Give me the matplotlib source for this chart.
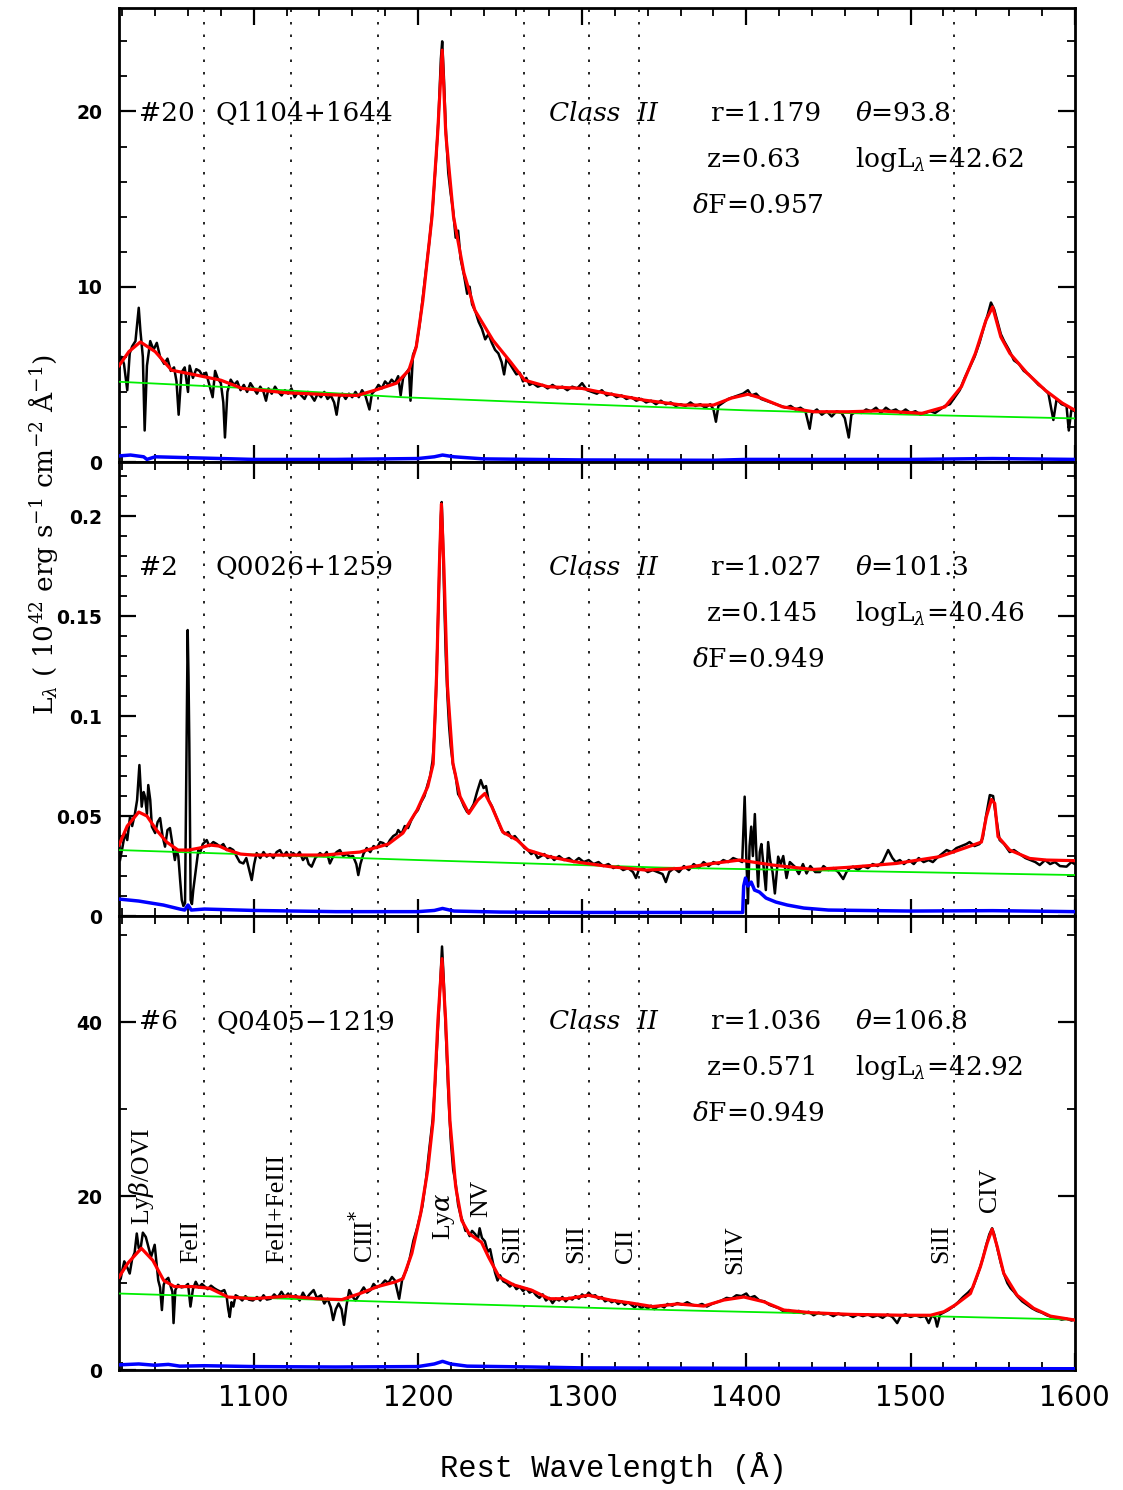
"""
Three-panel UV spectra (Class II quasars) with model fit, continuum and error.
"""

import matplotlib
matplotlib.use('Agg')
import matplotlib.pyplot as plt
from matplotlib.ticker import MultipleLocator, FormatStrFormatter

plt.rcParams['mathtext.fontset'] = 'dejavuserif'

# ---------------------------------------------------------------- panel 1 (#20)
W1 = [1018, 1019.5, 1021, 1023, 1024.5, 1026, 1028, 1030, 1031, 1032.5, 1033.6, 1035, 1037, 1039, 1041,
      1043, 1045.5, 1047.5, 1049.5, 1051.5, 1053, 1054.3, 1056, 1058, 1060, 1061, 1063, 1065, 1067, 1069,
      1071, 1073, 1075, 1076.5, 1078, 1080, 1081.5, 1082.5, 1084, 1086, 1088, 1090, 1092, 1094, 1096, 1098,
      1100, 1102, 1104, 1106, 1107.5, 1109, 1111, 1113, 1115, 1117, 1119, 1121, 1123, 1125, 1127, 1129,
      1131, 1133, 1135, 1137, 1139, 1141, 1143, 1145, 1147, 1149, 1150.5, 1152, 1154, 1156, 1158, 1160,
      1162, 1164, 1166, 1168, 1170.5, 1172, 1174, 1176, 1178, 1180, 1182, 1184, 1186, 1188, 1189.5, 1191,
      1193, 1194.5, 1195.5, 1197, 1199, 1201, 1203, 1205, 1207, 1209, 1211, 1212.5, 1214, 1214.8, 1215.8,
      1217, 1218.5, 1220, 1221.5, 1223, 1224.5, 1226, 1228, 1230, 1231.5, 1233, 1235, 1237, 1239, 1241,
      1243, 1245, 1247, 1249, 1251, 1252.5, 1254, 1256, 1258, 1260, 1262, 1264, 1266, 1268, 1270, 1273,
      1276, 1279, 1282, 1285, 1288, 1291, 1294, 1297, 1300, 1303, 1306, 1309, 1312, 1315, 1318, 1321,
      1324, 1327, 1330, 1333, 1336, 1339, 1342, 1345, 1348, 1351, 1354, 1357, 1360, 1363, 1366, 1369,
      1372, 1375, 1378, 1380, 1381.5, 1383, 1386, 1389, 1392, 1395, 1398, 1401, 1403, 1406, 1409, 1412,
      1415, 1418, 1421, 1424, 1427, 1430, 1433, 1436, 1438.6, 1440, 1443, 1446, 1449, 1452, 1455, 1458,
      1460, 1462.4, 1464, 1467, 1470, 1473, 1476, 1479, 1482, 1485, 1488, 1491, 1494, 1497, 1500, 1503,
      1506, 1509, 1512, 1515, 1518, 1521, 1524, 1527, 1530, 1533, 1536, 1539, 1542, 1545, 1547, 1549,
      1551, 1553, 1555, 1557, 1560, 1563, 1566, 1569, 1572, 1575, 1578, 1581, 1584, 1587, 1589, 1592,
      1595, 1596.4, 1598, 1600]
F1 = [5.3, 6.0, 5.6, 4.1, 6.2, 6.6, 6.9, 8.8, 7.5, 6.0, 1.8, 5.5, 6.9, 6.4, 6.8,
      6.0, 5.6, 5.9, 5.2, 5.4, 4.6, 2.7, 5.1, 5.4, 4.0, 5.5, 4.8, 5.3, 5.2, 4.9,
      5.1, 4.4, 3.7, 5.2, 4.8, 4.5, 3.4, 1.4, 4.0, 4.7, 4.4, 4.6, 4.1, 4.4, 4.0, 4.5,
      4.2, 3.9, 4.3, 4.0, 3.5, 4.2, 3.9, 4.3, 4.0, 3.8, 4.1, 3.9, 4.2, 3.7, 4.0, 3.8,
      3.6, 4.0, 3.8, 3.5, 3.9, 3.7, 4.0, 3.6, 3.8, 3.4, 2.7, 3.7, 3.9, 3.6, 3.9, 3.7,
      4.0, 3.7, 4.1, 3.8, 3.0, 3.9, 4.1, 4.4, 4.2, 4.6, 4.4, 4.7, 4.5, 4.9, 3.8, 4.8,
      5.1, 5.3, 3.5, 6.1, 6.6, 7.8, 9.4, 11.0, 12.6, 14.5, 17.2, 19.5, 23.0, 24.0, 22.0,
      19.0, 16.5, 15.3, 14.3, 12.8, 13.2, 11.6, 10.7, 9.6, 10.0, 9.0, 8.6, 8.0, 7.6, 7.0,
      7.3, 6.8, 6.4, 6.2, 5.7, 5.0, 5.9, 5.6, 5.3, 5.0, 5.1, 4.6, 4.8, 4.4, 4.5, 4.3,
      4.4, 4.2, 4.4, 4.2, 4.3, 4.1, 4.3, 4.2, 4.5, 4.1, 4.0, 3.9, 4.1, 3.8, 3.9, 3.7,
      3.8, 3.6, 3.7, 3.5, 3.6, 3.4, 3.5, 3.3, 3.5, 3.3, 3.4, 3.2, 3.3, 3.2, 3.4, 3.2,
      3.3, 3.1, 3.3, 3.0, 2.3, 3.2, 3.4, 3.6, 3.7, 3.8, 3.9, 4.1, 3.8, 3.9, 3.6, 3.5,
      3.4, 3.3, 3.2, 3.1, 3.2, 3.0, 3.1, 2.9, 1.9, 2.8, 3.0, 2.7, 2.9, 2.6, 2.9, 2.8,
      2.5, 1.4, 2.7, 2.9, 2.8, 3.0, 2.9, 3.1, 2.8, 3.1, 2.9, 3.0, 2.8, 3.0, 2.8, 2.9,
      2.7, 2.8, 2.9, 2.8, 3.0, 3.2, 3.3, 3.7, 4.1, 4.8, 5.4, 6.0, 6.8, 7.8, 8.4, 9.1,
      8.7, 8.0, 7.3, 6.9, 6.4, 5.8, 5.6, 5.2, 5.0, 4.7, 4.4, 4.2, 3.9, 2.4, 3.6, 3.3,
      3.2, 1.8, 3.0, 2.9]
MW1 = [1018, 1024, 1031, 1040, 1050, 1063, 1080, 1093, 1120, 1152, 1163, 1174, 1187, 1194.5, 1199,
       1203, 1208.6, 1212, 1214.8, 1217, 1221.7, 1228, 1234.7, 1245.7, 1256.5, 1265, 1279, 1300,
       1316, 1338, 1361, 1380, 1391, 1401, 1409, 1422, 1441, 1462, 1481, 1507, 1521, 1531, 1539.5,
       1546, 1550, 1555, 1560.5, 1571, 1582, 1592.5, 1600]
MF1 = [5.5, 6.3, 6.85, 6.3, 5.24, 5.0, 4.67, 4.2, 3.95, 3.82, 3.8, 4.1, 4.5, 5.24, 6.57,
       9.2, 14.0, 18.7, 23.5, 18.7, 14.0, 10.8, 8.66, 6.95, 5.7, 4.67, 4.3, 4.2,
       3.9, 3.53, 3.25, 3.25, 3.65, 3.87, 3.65, 3.15, 2.87, 2.87, 2.92, 2.78, 3.15, 4.3, 6.2,
       8.1, 8.85, 7.14, 6.2, 5.07, 4.1, 3.36, 2.96]
CW1 = [1018, 1100, 1190, 1290, 1400, 1500, 1600]
CF1 = [4.58, 4.2, 3.7, 3.33, 2.95, 2.7, 2.49]
EW1 = [1018, 1025, 1033, 1035, 1040, 1060, 1100, 1150, 1200, 1210, 1215, 1222, 1240, 1300, 1380,
       1400, 1500, 1550, 1600]
EF1 = [0.35, 0.4, 0.3, 0.15, 0.3, 0.25, 0.15, 0.15, 0.2, 0.3, 0.4, 0.3, 0.18, 0.12, 0.1,
       0.15, 0.15, 0.2, 0.15]

# ---------------------------------------------------------------- panel 2 (#2)
W2 = [1018.6, 1020, 1021.6, 1023, 1024.7, 1026, 1027.7, 1029, 1030.4, 1031.8, 1033, 1033.8, 1035,
      1035.8, 1037, 1038, 1040, 1041.5, 1043, 1044.5, 1046, 1047.5, 1049, 1050.5, 1052, 1053, 1054.1,
      1055.2, 1056.2, 1057.2, 1058.2, 1059.2, 1059.8, 1060.3, 1060.8, 1061.6, 1062.4, 1063.2, 1064.3,
      1065.3, 1066.3, 1067.3, 1069, 1071.4, 1073, 1075.4, 1077.5, 1079.5, 1081.5, 1083.5, 1085.5,
      1087.6, 1089.5, 1091.5, 1093.7, 1095.5, 1097, 1098.8, 1100.3, 1101.8, 1104, 1106, 1107.9, 1110,
      1112, 1114, 1116, 1118, 1120, 1122, 1124.1, 1126, 1128, 1130, 1132, 1133.5, 1135.3, 1137.5,
      1140.4, 1142.5, 1144.5, 1146.4, 1148.5, 1150.5, 1152.5, 1154.5, 1156.5, 1158.6, 1160.5, 1162.5,
      1163.7, 1165, 1166.8, 1168.8, 1171, 1173, 1175, 1177, 1178.9, 1181, 1183, 1185, 1187, 1188,
      1190, 1192, 1194, 1196, 1198, 1200, 1202, 1204, 1206, 1207.5, 1209, 1210, 1211, 1212, 1213,
      1214, 1214.5, 1215.2, 1216, 1217, 1218, 1219, 1220, 1221.5, 1223, 1224.5, 1226, 1228, 1230,
      1232, 1234, 1236, 1238.3, 1240, 1241.5, 1243, 1245, 1247, 1249, 1251, 1253, 1255, 1257, 1259,
      1261, 1263, 1265, 1267, 1269, 1271, 1273, 1275, 1277, 1279, 1281, 1283, 1286, 1289, 1292, 1295,
      1298, 1301, 1304, 1307, 1310, 1313, 1316, 1319, 1322, 1325, 1328, 1331, 1332.8, 1334.5, 1337,
      1340, 1343, 1346, 1349, 1351, 1353, 1356, 1359, 1362, 1365, 1368, 1371, 1374, 1377, 1380, 1383,
      1386, 1389, 1392, 1395, 1397.5, 1399, 1400, 1401, 1402, 1403, 1404, 1405.2, 1406.2, 1407.2,
      1408.2, 1409.2, 1410.5, 1411.9, 1413.3, 1414.5, 1416, 1417.4, 1419.4, 1421, 1422.5, 1424.5,
      1426.5, 1429.5, 1432, 1434.5, 1436.7, 1439, 1442, 1444.8, 1447, 1450, 1453, 1456, 1459, 1461,
      1463, 1465, 1468, 1471, 1474, 1477, 1480, 1483, 1486.4, 1489, 1491, 1493.5, 1496, 1499, 1502,
      1505, 1508, 1511, 1513.6, 1516, 1519, 1522, 1525, 1528, 1531, 1534, 1536, 1539, 1542, 1544,
      1546, 1548.3, 1550.3, 1552, 1554.3, 1557, 1560.4, 1563, 1566.5, 1570, 1573, 1576, 1578.7, 1582,
      1585, 1588, 1591, 1595, 1598, 1600]
F2 = [0.028, 0.034, 0.0415, 0.038, 0.0497, 0.045, 0.0513, 0.058, 0.0755, 0.0547, 0.062, 0.0597, 0.051,
      0.0655, 0.058, 0.0447, 0.0415, 0.047, 0.049, 0.040, 0.0347, 0.043, 0.044, 0.036, 0.028, 0.033, 0.030,
      0.018, 0.008, 0.005, 0.0065, 0.0915, 0.143, 0.12, 0.0865, 0.008, 0.006, 0.013, 0.020,
      0.0265, 0.033, 0.0315, 0.036, 0.038, 0.035, 0.037, 0.036, 0.0347, 0.036, 0.033, 0.034,
      0.033, 0.030, 0.027, 0.0263, 0.029, 0.024, 0.018, 0.026, 0.0315, 0.029, 0.032, 0.0297, 0.031,
      0.029, 0.032, 0.033, 0.030, 0.032, 0.029, 0.0315, 0.030, 0.032, 0.028, 0.030, 0.026, 0.0247, 0.029,
      0.0315, 0.030, 0.032, 0.0263, 0.030, 0.032, 0.033, 0.030, 0.031, 0.0297, 0.030, 0.026,
      0.0205, 0.026, 0.031, 0.034, 0.032, 0.035, 0.034, 0.037, 0.0365, 0.035, 0.038, 0.040, 0.041, 0.043,
      0.041, 0.045, 0.044, 0.048, 0.051, 0.053, 0.057, 0.060, 0.066, 0.070, 0.078, 0.090, 0.11, 0.14, 0.17,
      0.20, 0.207, 0.19, 0.16, 0.13, 0.11, 0.095, 0.085, 0.075, 0.070, 0.061, 0.059, 0.055, 0.052,
      0.053, 0.056, 0.062, 0.068, 0.064, 0.065, 0.058, 0.055, 0.051, 0.047, 0.043, 0.041, 0.042, 0.039, 0.040,
      0.038, 0.036, 0.034, 0.033, 0.031, 0.032, 0.029, 0.030, 0.031, 0.029, 0.030, 0.028, 0.030, 0.028, 0.029, 0.027,
      0.029, 0.027, 0.028, 0.026, 0.027, 0.025, 0.026, 0.024, 0.025, 0.023, 0.024, 0.022, 0.019, 0.023, 0.024,
      0.022, 0.023, 0.022, 0.021, 0.017, 0.022, 0.024, 0.022, 0.025, 0.023, 0.026, 0.024, 0.027, 0.025, 0.027, 0.026,
      0.028, 0.027, 0.029, 0.028, 0.027, 0.0597, 0.030, 0.0063, 0.035, 0.0447, 0.030, 0.051, 0.030, 0.0147,
      0.032, 0.036, 0.025, 0.013, 0.037, 0.028, 0.022, 0.0113, 0.0297, 0.026, 0.030, 0.019,
      0.027, 0.0247, 0.021, 0.026, 0.0213, 0.025, 0.022, 0.022, 0.025, 0.023, 0.024, 0.022, 0.0185, 0.022,
      0.024, 0.0247, 0.023, 0.025, 0.024, 0.026, 0.025, 0.027, 0.033, 0.029, 0.027, 0.028, 0.026, 0.028, 0.026,
      0.029, 0.027, 0.028, 0.027, 0.029, 0.031, 0.033, 0.032, 0.034, 0.035, 0.036, 0.037, 0.035, 0.036, 0.039,
      0.050, 0.0605, 0.060, 0.050, 0.038, 0.036, 0.032, 0.033, 0.031, 0.029, 0.028, 0.027, 0.0255, 0.028,
      0.026, 0.027, 0.025, 0.0247, 0.027, 0.026]
MW2 = [1018, 1023, 1030, 1035, 1040.8, 1047, 1053.9, 1060.4, 1067, 1073.4, 1079, 1084.3, 1092, 1099.5,
       1120, 1142.8, 1164.7, 1182, 1190.9, 1199.5, 1206, 1209.3, 1211.5, 1213, 1214.3, 1215.9, 1218,
       1221.3, 1225.7, 1231, 1236.5, 1240.8, 1245, 1251.7, 1260.4, 1267, 1280, 1295, 1317, 1338.7,
       1359.5, 1379.6, 1396, 1416, 1440.5, 1461, 1491.4, 1517.8, 1534, 1543.2, 1546.2, 1549.3, 1551.3,
       1553.3, 1560.4, 1572.6, 1582.8, 1600]
MF2 = [0.0355, 0.045, 0.052, 0.050, 0.043, 0.037, 0.033, 0.033, 0.034, 0.0355, 0.035, 0.033, 0.031, 0.0305,
       0.0305, 0.0305, 0.032, 0.036, 0.0415, 0.053, 0.0647, 0.076, 0.123, 0.173, 0.206, 0.173, 0.115,
       0.0765, 0.0597, 0.0513, 0.058, 0.0613, 0.0547, 0.042, 0.038, 0.033, 0.0297, 0.0272, 0.0247, 0.023,
       0.0238, 0.0263, 0.028, 0.0255, 0.0233, 0.0243, 0.0263, 0.0297, 0.0343, 0.037, 0.0497, 0.0583, 0.0563,
       0.0397, 0.033, 0.0288, 0.028, 0.0277]
CW2 = [1018, 1200, 1350, 1600]
CF2 = [0.033, 0.028, 0.0242, 0.0205]
EW2 = [1018, 1030, 1045, 1055, 1058, 1060, 1062, 1070, 1100, 1150, 1200, 1210, 1215, 1222, 1250, 1300,
       1397.8, 1398.4, 1399.5, 1401, 1403, 1405, 1408, 1412, 1418, 1425, 1435, 1450, 1500, 1550, 1600]
EF2 = [0.0085, 0.0075, 0.0055, 0.0035, 0.003, 0.0055, 0.003, 0.0035, 0.0028, 0.0022, 0.0022, 0.0028,
       0.0038, 0.0025, 0.002, 0.0018, 0.0018, 0.015, 0.019, 0.015, 0.017, 0.013, 0.012, 0.009, 0.007,
       0.0055, 0.004, 0.003, 0.0025, 0.0027, 0.0022]

# ---------------------------------------------------------------- panel 3 (#6)
W3 = [1018, 1019, 1020, 1021.2, 1023, 1024.5, 1026, 1027.5, 1028.8, 1030, 1031, 1032.5, 1034.3, 1035.8,
      1037.5, 1039.7, 1041, 1041.9, 1043, 1044.1, 1045.2, 1046.2, 1048, 1049.5, 1050.5, 1051.2, 1052.3,
      1053.9, 1056, 1058.2, 1060, 1061.5, 1063, 1064.7, 1066.5, 1068.5, 1070.2, 1072, 1074, 1076, 1077.8,
      1080, 1082.1, 1083.5, 1084.5, 1085.4, 1086.5, 1087.6, 1089, 1090.8, 1093, 1095, 1097, 1099.5, 1102,
      1104, 1106, 1108, 1110.4, 1112.5, 1114.5, 1116.9, 1119, 1121, 1123, 1125.6, 1128, 1130, 1132, 1134,
      1136.5, 1138.5, 1141, 1143, 1145, 1147, 1148.4, 1150, 1151.7, 1153.5, 1155, 1156.5, 1158.2, 1160,
      1162, 1164.7, 1167, 1169, 1171.2, 1173, 1175, 1177.7, 1180, 1182, 1184.2, 1186, 1188.6, 1190.5, 1193,
      1195, 1197.3, 1199.5, 1202.7, 1205, 1207, 1209, 1210.5, 1212, 1213.5, 1214.7, 1215.7, 1217, 1218.5,
      1220, 1221.5, 1223, 1224.5, 1226, 1227.5, 1229, 1230, 1231.5, 1233, 1235, 1236.5, 1237.6, 1239,
      1240.8, 1242.5, 1244, 1245.5, 1247, 1248.5, 1250, 1252, 1254, 1256, 1258, 1260, 1262, 1264, 1266,
      1268, 1270, 1272, 1274, 1276, 1278, 1280, 1282, 1284, 1286, 1288, 1290, 1292, 1294, 1296, 1298,
      1300, 1302, 1304, 1306, 1308, 1310, 1312, 1314, 1316, 1318, 1320, 1322, 1324, 1326, 1328, 1330,
      1332, 1334, 1336, 1338, 1340, 1342, 1344, 1346, 1348, 1350, 1352, 1355, 1358, 1361, 1364, 1367,
      1370, 1373, 1376, 1379, 1382, 1385, 1388, 1391, 1394, 1397, 1400, 1402, 1405, 1408, 1411, 1414,
      1417, 1420, 1423, 1426, 1429, 1432, 1435, 1438, 1441, 1444, 1447, 1450, 1453, 1456, 1459, 1462,
      1465, 1468, 1471, 1474, 1477, 1480, 1483, 1486, 1489, 1491.9, 1494, 1497, 1500, 1503, 1506, 1509,
      1511.1, 1513, 1515, 1516.2, 1518, 1520, 1523, 1526, 1529, 1532, 1535, 1538, 1540, 1542, 1544,
      1546, 1548, 1549.7, 1551, 1553, 1555, 1557, 1559, 1561, 1563, 1565, 1568, 1571, 1574, 1577, 1580,
      1583, 1586, 1589, 1592, 1595, 1598, 1600]
F3 = [10.2, 10.5, 11.5, 12.5, 11.8, 11.1, 12.8, 13.5, 15.7, 14.0, 13.8, 15.8, 15.3, 14.2,
      13.0, 14.4, 12.0, 10.3, 9.5, 6.9, 9.8, 10.3, 10.6, 9.6, 9.0, 5.4, 9.2,
      9.8, 9.5, 9.6, 9.9, 7.3, 9.3, 10.15, 9.5, 9.9, 9.6, 9.3, 9.7, 9.4, 9.2,
      9.0, 9.2, 8.5, 7.0, 6.1, 7.8, 7.3, 8.6, 8.4, 8.0, 8.5, 8.1, 8.0, 8.4,
      8.0, 8.6, 8.1, 8.2, 8.7, 8.3, 9.0, 8.4, 8.8, 8.2, 8.6, 8.0, 8.9, 8.2, 8.7,
      9.2, 8.3, 8.6, 7.65, 8.2, 7.2, 5.75, 7.0, 7.65, 7.0, 5.2, 7.4, 9.2, 8.5,
      8.0, 8.8, 9.5, 8.9, 9.2, 9.9, 9.5, 9.8, 10.3, 10.0, 10.7, 10.3, 8.2, 10.5, 11.5,
      12.8, 14.9, 16.3, 18.8, 22.0, 25.5, 28.8, 33.0, 38.5, 44.0, 48.7, 45.0, 39.0, 32.0,
      26.5, 23.0, 21.5, 19.0, 17.8, 17.0, 16.0, 16.1, 15.4, 16.0, 15.6, 15.0, 16.3, 15.2,
      14.8, 13.6, 13.9, 12.5, 11.2, 10.3, 10.9, 10.2, 10.0, 9.6, 9.9, 9.3, 9.6, 9.1, 9.4,
      8.9, 9.1, 8.6, 8.3, 8.7, 8.0, 8.3, 7.7, 8.2, 8.0, 8.4, 7.9, 8.3, 8.1, 8.5, 8.2,
      8.7, 8.4, 8.9, 8.5, 8.6, 8.2, 8.4, 7.9, 8.1, 7.8, 8.0, 7.6, 7.9, 7.5, 7.8, 7.5,
      7.2, 7.6, 7.1, 7.4, 7.1, 7.4, 7.0, 7.3, 7.4, 7.2, 7.6, 7.4, 7.7, 7.5, 7.8, 7.5,
      7.4, 7.6, 7.3, 7.6, 7.8, 8.0, 8.3, 8.2, 8.6, 8.5, 8.8, 8.3, 8.5, 8.0, 7.9, 7.5,
      7.3, 7.1, 6.7, 6.9, 6.6, 6.8, 6.5, 6.7, 6.3, 6.6, 6.4, 6.5, 6.2, 6.5, 6.3, 6.4,
      6.1, 6.4, 6.2, 6.4, 6.1, 6.3, 6.0, 6.4, 6.1, 5.4, 6.2, 6.4, 6.1, 6.3, 6.1, 6.2,
      5.4, 6.3, 6.0, 5.0, 6.4, 6.6, 6.9, 7.3, 7.8, 8.4, 8.9, 9.5, 10.5, 11.6, 12.8,
      14.3, 15.6, 16.3, 15.6, 13.9, 12.3, 11.0, 10.0, 9.4, 9.0, 8.5, 7.9, 7.5, 7.1, 6.8, 6.6,
      6.3, 6.1, 6.0, 5.8, 5.9, 5.7, 5.8]
MW3 = [1018, 1023.4, 1031.6, 1038.6, 1045.2, 1051.7, 1062.5, 1073.4, 1084.3, 1099.5, 1121.2, 1138.5,
       1153.7, 1164.7, 1175.6, 1186.5, 1190.9, 1196.3, 1201.7, 1206, 1209.3, 1212.2, 1214.7, 1216.9,
       1219.5, 1223, 1226.7, 1231.1, 1238.7, 1243, 1249.5, 1258.2, 1269.1, 1280, 1290.8, 1303.9, 1317,
       1330, 1343, 1358, 1374.2, 1386.3, 1398.5, 1410.7, 1422.9, 1439.1, 1463.5, 1495.9, 1512.2, 1520.3,
       1527.4, 1536.5, 1542.6, 1546.7, 1549.7, 1552.8, 1556.8, 1564.9, 1575, 1585.2, 1600]
MF3 = [10.7, 12.3, 14.0, 12.6, 10.3, 9.6, 9.6, 9.4, 8.4, 8.2, 8.5, 8.2,
       8.1, 8.8, 9.6, 10.15, 10.5, 13.4, 18.0, 23.0, 28.7, 40.2, 47.3, 40.2,
       28.7, 21.1, 17.2, 15.7, 14.7, 13.0, 10.7, 9.8, 9.2, 8.2, 8.2, 8.6, 8.05,
       7.7, 7.3, 7.6, 7.36, 8.05, 8.4, 7.85, 6.9, 6.6, 6.4, 6.3, 6.3, 6.7,
       7.5, 8.8, 11.9, 14.6, 16.2, 14.2, 11.1, 8.6, 7.1, 6.2, 5.75]
CW3 = [1018, 1215, 1353, 1600]
CF3 = [8.8, 7.65, 6.9, 5.8]
EW3 = [1018, 1030, 1040, 1048, 1055, 1070, 1100, 1150, 1200, 1210, 1215, 1220, 1230, 1270, 1300,
       1400, 1500, 1600]
EF3 = [0.6, 0.7, 0.55, 0.65, 0.45, 0.5, 0.4, 0.35, 0.4, 0.7, 1.0, 0.7, 0.45, 0.35, 0.25,
       0.2, 0.18, 0.15]

# ---------------------------------------------------------------- annotations
LINE_WAVES = [1070, 1122.5, 1175.7, 1264.7, 1304.4, 1334.5, 1526.7]

LINE_LABELS = ['Ly$\\beta$/OVI', 'FeII', 'FeII+FeIII', 'CIII$^{*}$', 'Ly$\\alpha$', 'NV',
               'SiII', 'SiII', 'CII', 'SiIV', 'SiII', 'CIV']
LABEL_X = [1031.4, 1062, 1114.2, 1167.3, 1216, 1238.4, 1257.3, 1296.2, 1326.5, 1393.4, 1518.8, 1548.7]
LABEL_Y = [16.7, 12.3, 12.3, 12.3, 15.0, 17.6, 12.3, 12.3, 12.3, 11.0, 12.3, 18.2]

IDS = ['#20', '#2', '#6']
NAMES = ['Q1104+1644', 'Q0026+1259', 'Q0405$-$1219']
R_VAL = ['1.179', '1.027', '1.036']
THETA = ['93.8', '101.3', '106.8']
Z_VAL = ['0.63', '0.145', '0.571']
LOGL = ['42.62', '40.46', '42.92']
DF = ['0.957', '0.949', '0.949']

YLIMS = [(0, 25.9), (0, 0.227), (0, 52.2)]
YMAJ = [10, 0.05, 20]
YMIN = [2, 0.01, 10]

panels = [(W1, F1, MW1, MF1, CW1, CF1, EW1, EF1),
          (W2, F2, MW2, MF2, CW2, CF2, EW2, EF2),
          (W3, F3, MW3, MF3, CW3, CF3, EW3, EF3)]

fig = plt.figure(figsize=(11.23, 14.90), dpi=100)

serif = 'DejaVu Serif'
bottoms = [0.6899, 0.3852, 0.0805]

for i, (w, f, mw, mf, cw, cf, ew, ef) in enumerate(panels):
    ax = fig.add_axes([0.106, bottoms[i], 0.851, 0.3047])

    for lw_ in LINE_WAVES:
        ax.axvline(lw_, color='black', lw=1.2, ls=(0, (1.5, 6)), zorder=1)

    ax.plot(w, f, color='black', lw=1.8, zorder=2)
    ax.plot(cw, cf, color='#00ee00', lw=1.3, zorder=3)
    ax.plot(mw, mf, color='red', lw=2.3, zorder=4)
    ax.plot(ew, ef, color='#0000ff', lw=2.5, zorder=3)

    ax.set_xlim(1018, 1600)
    ax.set_ylim(*YLIMS[i])
    ax.xaxis.set_major_locator(MultipleLocator(100))
    ax.xaxis.set_minor_locator(MultipleLocator(20))
    ax.yaxis.set_major_locator(MultipleLocator(YMAJ[i]))
    ax.yaxis.set_minor_locator(MultipleLocator(YMIN[i]))
    ax.yaxis.set_major_formatter(FormatStrFormatter('%g'))
    ax.tick_params(which='both', direction='in', top=True, right=True)
    ax.tick_params(which='major', length=12, width=1.6)
    ax.tick_params(which='minor', length=6, width=1.3)
    ax.tick_params(axis='y', labelsize=13.5, pad=12)
    for lab in ax.get_yticklabels():
        lab.set_fontweight('bold')
    for sp in ax.spines.values():
        sp.set_linewidth(2)

    if i < 2:
        ax.tick_params(axis='x', labelbottom=False)
    else:
        ax.tick_params(axis='x', labelsize=20, pad=10)

    # panel texts
    kw = dict(transform=ax.transAxes, fontsize=19, family=serif, va='center')
    ax.text(0.021, 0.767, IDS[i], **kw)
    ax.text(0.101, 0.767, NAMES[i], **kw)
    ax.text(0.450, 0.767, 'Class  II', style='italic', **kw)
    ax.text(0.619, 0.767, 'r=' + R_VAL[i], **kw)
    ax.text(0.770, 0.767, '$\\theta$=' + THETA[i], **kw)
    ax.text(0.615, 0.667, 'z=' + Z_VAL[i], **kw)
    ax.text(0.770, 0.667, 'logL$_{\\lambda}$=' + LOGL[i], **kw)
    ax.text(0.600, 0.566, '$\\delta$F=' + DF[i], **kw)

    if i == 2:
        for s, x, y in zip(LINE_LABELS, LABEL_X, LABEL_Y):
            ax.text(x, y, s, rotation=90, ha='center', va='bottom',
                    fontsize=18.5, family='Liberation Serif')

fig.text(0.038, 0.641, 'L$_{\\lambda}$ ( 10$^{42}$ erg s$^{-1}$ cm$^{-2}$ Å$^{-1}$)',
         rotation=90, ha='center', va='center', fontsize=19, family=serif)
fig.text(0.546, 0.0145, 'Rest Wavelength (Å)', ha='center', va='center',
         fontsize=22, family='Liberation Mono')

fig.savefig('out.png', dpi=100, facecolor='white')
